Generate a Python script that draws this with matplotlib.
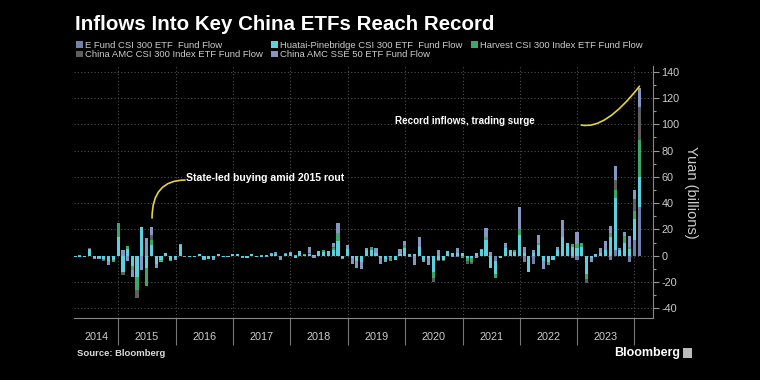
import matplotlib
matplotlib.use('Agg')
import matplotlib.pyplot as plt
import matplotlib.dates as mdates
from matplotlib.patches import Patch, Rectangle
import numpy as np
import pandas as pd

plt.rcParams['font.family'] = ['Liberation Sans', 'DejaVu Sans']
plt.rcParams['axes.unicode_minus'] = False

# Monthly fund flows, billions of yuan, Mar 2014 .. Jan 2024 (month-end)
efund = [
    0, 0, 0, 0, 0, 0, 0, 0, 0, 0,                      # 2014 (Mar-Dec)
    0, 0, 0, 0, 0, 0, 0, 0, 0, 0, 0, 0,                # 2015
    0, 0, 0, 0, 0, 0, 0, 0, 0, 0, 0, 0,                # 2016
    0, 0, 0, 0, 0, 0, 0, 0, 0, 0, 0, 0,                # 2017
    0, 0, 0, 0, 0, 0, 0, 0, 0, 0, 0, 0,                # 2018
    0, 0, 0, 0, 0, 0, 0, 0, 0, 0, 0, 0,                # 2019
    0, 0, 0, 0, 0, 0, 0, 0, 0, 0, -1, 0,               # 2020
    0, 0, 0, 0, 0, 0, -4, 0, 0, 0, 0, 0,               # 2021
    -5, 0, -6, 0, 0, 0, 0, 0, 0, 0, -2, -3,            # 2022
    0, 0, 0, 0, 0, 0, -3, 4, 0, 0, -4.5, 12,           # 2023
    37,                                                # 2024
]
huatai = [
    -0.8, -0.6, -0.7, 5, -2, -1.5, -2.5, -4, -3, 14,
    -12, 5, -8, -16, 22, -9, 8, -6, -3, 2, -3, -2,
    8, -0.5, -1, -0.8, 1, -2.5, -2.5, -2, 1.2, -0.8, -1, 1,
    1.5, -1, -1.5, 1.2, -0.8, -1, 0.5, 1.5, 1, -0.5, 1.5, 2,
    -1.5, 3.5, 0.5, 1, 0.3, 3.5, 3, 3.5, 4, 11, -2, 5,
    -1.5, -4, -5, 4, 4, 2, -1.5, -2.5, -1, -3, 1.5, 6,
    1, 1, 7, -3, -1.5, -12, -3, -3, 3.5, 2, 2, 2,
    -2, -2, 2, 4, 12, -9, -10, -2, 6, 4, 3, 16,
    2, -12, 2, 8, -4, -5, -3, 4, 14, 10, 7, 6,
    7, -14, -2, 1, 2, 4, 14, 40, 4, 10, 5, 16,
    23,
]
harvest = [
    0, 0, 0, 0, 0, 0, -1, 0, -1.5, 11,
    0, 2.5, -3, -10, 0, -14, 4, 0, -1, 0, -1.3, 0,
    0, 0, 0, 0, 0, 0, 0, 0, 0, 0, 0, 0,
    0, 0, 0, 0, 0, 0, 0, 0, 0, 0, 0.5, 0,
    0, 0, 0.8, 0, 0, 0, 1, 0, 2, 6, 0, 0,
    0, 0, 0, 0, 3, 0, 0, 0, -3, 0, 0, 2,
    0, 0, 0, 0, 0, -5, 0, 0, 0, 0, 0, -2,
    -2, -3, 0, 0, 2.5, 0, -3, 0, 0, 0, 1, 4,
    0, 0, 0, 2, 0, -2, 0, 0, 0, 0, 2, 3,
    2.5, -4, 0, 0, 0, 0, 3, 6, 1.5, 5, 2, 6,
    28,
]
amc300 = [
    0, 0, 0, 1, 0, 0, -0.5, 0, 0, 0,
    -3, 0, 0, -6, 0, 0, 4, 0, 0, 0, 0, 0,
    0, 0, 0, 0, 0, 0, 0, 0, 0, 0, 0, 0,
    0, 0, 0, 0, 0, 0, 0, 0, 0, 0, 0, 0,
    0, 0, 0, 1, 0, 0, 0, 0, 1, 0, 0, 0,
    0, 0, 0, 0, 0, 0, 0, 0, 0, 0, 0, 0,
    0, 0, 0, 0, 0, -3, -1, -1, 0, 0, 0, 0,
    -2, -1, 0, 0, 0, 0, 0, 0, 0, 0, 0, 0,
    0, 0, 0, 0, 0, 0, 0, 0, 0, 0, 0, 0,
    0, -3, 0, 0, 0, 0, 0, 8, 0, 0, 0, 9,
    25,
]
sse50 = [
    0, 0.4, 0, 0, -0.5, -1, 0, -3, -0.5, 0,
    4, -4, -5, 0, -11, 13.5, 6, -3.4, -1, 0, 0, -1,
    1, -0.5, 0, -0.4, 0.3, -0.5, -0.3, -1, 0, -0.3, 0, 0.5,
    0, -0.4, 0, 0.3, -0.4, 0.3, -0.8, 0.5, 2, -2.5, 0, 0.5,
    0.3, 0, 0, 5, -1.8, 0, 0, 0, 3, 8, -0.5, 3,
    -4.5, -5, -5, 2, 0, 4, -4.5, -2, 0, 0, 3.5, 3,
    -1, -7, 7, -2, -5.5, 0, 4, 0, 0, -1, 4, 0,
    0, 0, -2, 1, 6.5, 3, 0, 0, 4, 0, 0, 17,
    5, 0, 2, 6, -6, 0, 0, 3, 13, 0, 0, 9,
    0, 0, -3, -1, 4, 7, 6, 10, 0.5, 3, 8, 7,
    15,
]

labels = ['E Fund CSI 300 ETF  Fund Flow',
          'Huatai-Pinebridge CSI 300 ETF  Fund Flow',
          'Harvest CSI 300 Index ETF Fund Flow',
          'China AMC CSI 300 Index ETF Fund Flow',
          'China AMC SSE 50 ETF Fund Flow']
colors = ['#6f82ad', '#5bd1e0', '#3aa866', '#5e5e5e', '#8797c4']
years = list(range(2014, 2024))

dates = pd.date_range('2014-04-01', periods=len(efund), freq='MS') - pd.Timedelta(days=1)
x = mdates.date2num(dates)

fig = plt.figure(figsize=(7.6, 3.8), dpi=100, facecolor='black')
ax = fig.add_axes([74 / 760, 1 - 318.3 / 380, (653.3 - 74) / 760, (318.3 - 66) / 380])
ax.set_facecolor('black')

pos_bottom = np.zeros(len(x))
neg_bottom = np.zeros(len(x))
for vals, color in zip([efund, huatai, harvest, amc300, sse50], colors):
    v = np.array(vals, dtype=float)
    pos = np.where(v > 0, v, 0)
    neg = np.where(v < 0, v, 0)
    ax.bar(x, pos, width=20, bottom=pos_bottom, color=color, linewidth=0)
    ax.bar(x, neg, width=20, bottom=neg_bottom, color=color, linewidth=0)
    pos_bottom += pos
    neg_bottom += neg

xmin = mdates.date2num(pd.Timestamp('2014-03-25'))
xmax = mdates.date2num(pd.Timestamp('2024-04-30'))
ax.set_xlim(xmin, xmax)
ax.set_ylim(-47.6, 144.4)

# year separators + year labels centred in each visible year
bounds = [mdates.date2num(pd.Timestamp(f'{y}-01-01')) for y in range(2015, 2025)]
ax.set_xticks(bounds)
ax.set_xticklabels([])
centers = [(xmin + bounds[0]) / 2] + [(bounds[i] + bounds[i + 1]) / 2 for i in range(9)]
ax.set_xticks(centers, minor=True)
ax.set_xticklabels([str(y) for y in years], minor=True)
ax.tick_params(axis='x', which='major', length=19.5, width=0.8, color='#777777', direction='out')
ax.tick_params(axis='x', which='minor', length=0, pad=10, labelsize=7.8, labelcolor='#cccccc')

ax.set_yticks(range(-40, 141, 20))
ax.set_yticks(range(-40, 141, 10), minor=True)
ax.yaxis.tick_right()
ax.tick_params(axis='y', which='major', length=4, width=0.8, color='#999999', labelsize=7.8,
               labelcolor='#cccccc', pad=2)
ax.tick_params(axis='y', which='minor', length=2, width=0.8, color='#999999')
ax.yaxis.set_label_position('right')
ax.set_ylabel('Yuan (billions)', rotation=270, va='bottom', color='#cccccc', fontsize=10.5, labelpad=3)

ax.grid(True, which='major', linestyle=(0, (1, 2)), color='#4d4d4d', linewidth=0.8)
ax.set_axisbelow(True)
for side in ['left', 'top']:
    ax.spines[side].set_visible(False)
for side in ['right', 'bottom']:
    ax.spines[side].set_color('#888888')
    ax.spines[side].set_linewidth(0.8)

# annotations
yellow = '#e6d23c'
ax.annotate('', xy=(mdates.date2num(pd.Timestamp('2015-08-04')), 28.7),
            xytext=(mdates.date2num(pd.Timestamp('2016-03-01')), 57.6),
            arrowprops=dict(arrowstyle='-', color=yellow, lw=1.2, shrinkA=0, shrinkB=0,
                            connectionstyle='angle3,angleA=0,angleB=90'))
ax.text(mdates.date2num(pd.Timestamp('2016-03-05')), 59.5, 'State-led buying amid 2015 rout',
        color='white', fontsize=7.6, fontweight='bold', ha='left', va='center')
ax.annotate('', xy=(mdates.date2num(pd.Timestamp('2024-02-02')), 129),
            xytext=(mdates.date2num(pd.Timestamp('2023-01-27')), 99.5),
            arrowprops=dict(arrowstyle='-', color=yellow, lw=1.2, shrinkA=0, shrinkB=0,
                            connectionstyle='angle3,angleA=-12,angleB=52'))
ax.text(mdates.date2num(pd.Timestamp('2019-10-31')), 102.5, 'Record inflows, trading surge',
        color='white', fontsize=7.1, fontweight='bold', ha='left', va='center')

# legend: column-first order so rows read like the original
order = [0, 3, 1, 4, 2]
handles = [Patch(facecolor=colors[i], edgecolor='none') for i in order]
fig.legend(handles, [labels[i] for i in order], loc='upper left',
           bbox_to_anchor=(76 / 760, 1 - 41 / 380), ncol=3, frameon=False, fontsize=6.8,
           handlelength=0.7, handleheight=0.7, handletextpad=0.25, columnspacing=0.9,
           labelspacing=0.05, borderpad=0, borderaxespad=0, labelcolor='#cccccc')

fig.text(75 / 760, 1 - 30 / 380, 'Inflows Into Key China ETFs Reach Record', color='white',
         fontsize=14.8, fontweight='bold', ha='left', va='baseline')
fig.text(77 / 760, 1 - 353 / 380, 'Source: Bloomberg', color='#dddddd', fontsize=6.8,
         fontweight='bold', ha='left', va='center')
fig.text(614 / 760, 1 - 353 / 380, 'Bloomberg', color='white', fontsize=9,
         fontweight='bold', ha='left', va='center')
fig.patches.append(Rectangle((683 / 760, 1 - 358 / 380), 9 / 760, 10 / 380,
                             transform=fig.transFigure, facecolor='#bbbbbb', edgecolor='none'))

fig.savefig('out.png', dpi=100, facecolor='black')
